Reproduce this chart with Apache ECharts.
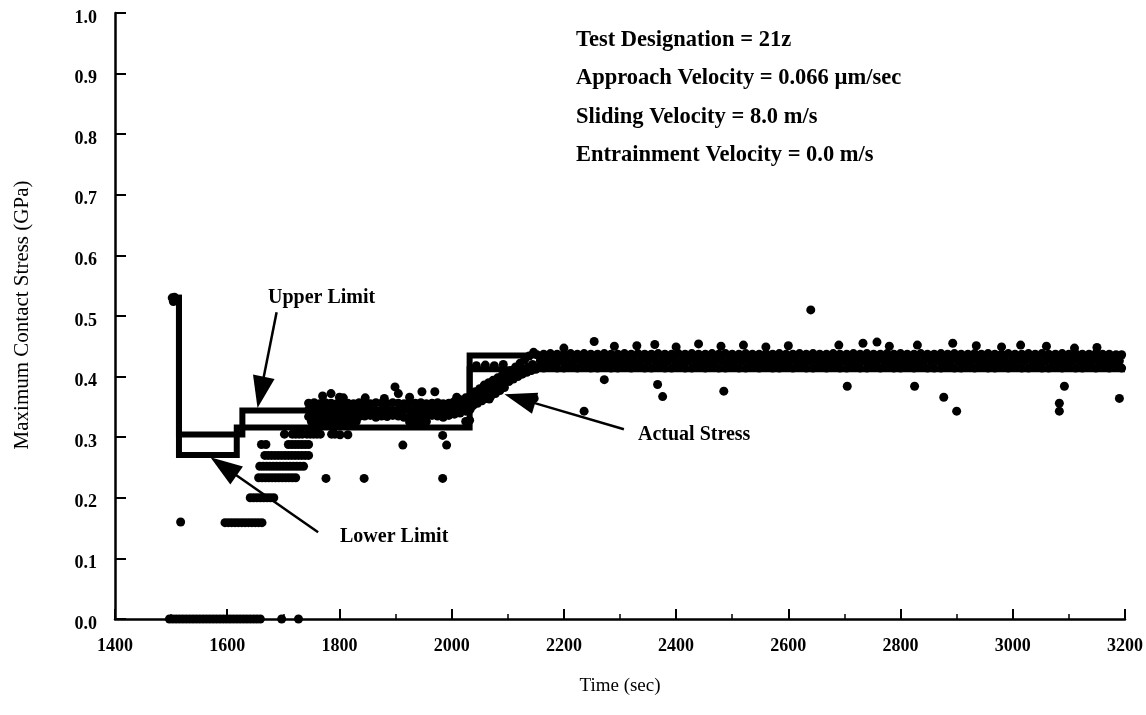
<!DOCTYPE html>
<html><head><meta charset="utf-8">
<script src="https://cdn.jsdelivr.net/npm/echarts@6/dist/echarts.min.js"></script>
<style>html,body{margin:0;padding:0;background:#fff}#c{width:1146px;height:715px}</style>
</head><body><div id="c"></div>
<script>
// ---------- DATA ----------
const xTicks = [1400,1600,1800,2000,2200,2400,2600,2800,3000,3200];
const yTicks = [0,0.1,0.2,0.3,0.4,0.5,0.6,0.7,0.8,0.9,1.0];

const infoLines = ['Test Designation = 21z','Approach Velocity = 0.066 \u00b5m/sec','Sliding Velocity = 8.0 m/s','Entrainment Velocity = 0.0 m/s'];

const upperLimit = [[1514,0.535],[1514,0.3045],[1627,0.3045],[1627,0.344],[2032,0.344],[2032,0.435],[3200,0.435]];
const lowerLimit = [[1514,0.535],[1514,0.2706],[1617,0.2706],[1617,0.316],[2032,0.316],[2032,0.412],[3200,0.412]];

const startPts = [[1502,0.53],[1506,0.531],[1504,0.524],[1517,0.16]];
const zeroRow = [[1497,0],[1503,0],[1509,0],[1515,0],[1521,0],[1527,0],[1533,0],[1539,0],[1545,0],[1551,0],[1557,0],[1563,0],[1569,0],[1575,0],[1581,0],[1587,0],[1593,0],[1599,0],[1605,0],[1611,0],[1617,0],[1623,0],[1629,0],[1635,0],[1641,0],[1647,0],[1653,0],[1659,0],[1697,0],[1727,0]];
const row016 = [[1596,0.159],[1602,0.159],[1608,0.159],[1614,0.159],[1620,0.159],[1626,0.159],[1632,0.159],[1638,0.159],[1644,0.159],[1650,0.159],[1656,0.159],[1662,0.159]];
const row020 = [[1641,0.2],[1647,0.2],[1653,0.2],[1659,0.2],[1665,0.2],[1671,0.2],[1677,0.2],[1683,0.2]];
const row023 = [[1656,0.233],[1662,0.233],[1668,0.233],[1674,0.233],[1680,0.233],[1686,0.233],[1692,0.233],[1698,0.233],[1704,0.233],[1710,0.233],[1716,0.233],[1722,0.233]];
const row025 = [[1658,0.252],[1664,0.252],[1670,0.252],[1676,0.252],[1682,0.252],[1688,0.252],[1694,0.252],[1700,0.252],[1706,0.252],[1712,0.252],[1718,0.252],[1724,0.252],[1730,0.252],[1736,0.252]];
const row027 = [[1667,0.27],[1673,0.27],[1679,0.27],[1685,0.27],[1691,0.27],[1697,0.27],[1703,0.27],[1709,0.27],[1715,0.27],[1721,0.27],[1727,0.27],[1733,0.27],[1739,0.27],[1745,0.27]];
const row029 = [[1661,0.288],[1669,0.288],[1709,0.288],[1715,0.288],[1721,0.288],[1727,0.288],[1733,0.288],[1739,0.288],[1745,0.288]];
const row030 = [[1702,0.305],[1716,0.305],[1722,0.305],[1728,0.305],[1734,0.305],[1742,0.305],[1748,0.305],[1754,0.305],[1760,0.305],[1766,0.305],[1786,0.305],[1792,0.305],[1801,0.304],[1815,0.304]];

const band1Times = [1745,1755,1765,1775,1785,1795,1805,1815,1825,1835,1845,1855,1865,1875,1885,1895,1905,1915,1925,1935,1945,1955,1965,1975,1985,1995,2005,2015,2025,2033];
const band1Low  = [0.334,0.336,0.333,0.335,0.336,0.334,0.335,0.333,0.336,0.334,0.335,0.336,0.333,0.335,0.334,0.336,0.335,0.333,0.334,0.336,0.335,0.334,0.336,0.335,0.333,0.336,0.338,0.340,0.343,0.346];
const band1Mid  = [0.345,0.346,0.344,0.345,0.346,0.344,0.346,0.345,0.344,0.346,0.345,0.346,0.344,0.345,0.346,0.344,0.345,0.346,0.345,0.344,0.346,0.345,0.344,0.346,0.345,0.346,0.349,0.351,0.354,0.357];
const band1High = [0.356,0.357,0.355,0.357,0.356,0.355,0.357,0.356,0.355,0.357,0.356,0.355,0.357,0.356,0.355,0.357,0.356,0.355,0.357,0.356,0.357,0.355,0.356,0.357,0.355,0.356,0.359,0.362,0.365,0.368];
const band1Base = [[1750,0.326],[1760,0.325],[1770,0.326],[1780,0.325],[1790,0.326],[1800,0.325],[1810,0.326],[1820,0.325],[1830,0.326],[1925,0.325],[1935,0.326],[1945,0.325],[1955,0.326],[2025,0.326],[2032,0.328]];
const band1Top = [[1770,0.368],[1785,0.372],[1800,0.366],[1807,0.365],[1846,0.365],[1880,0.364],[1899,0.383],[1905,0.372],[1925,0.366],[1947,0.375],[1970,0.375],[2009,0.366]];
const band1Out = [[1776,0.232],[1844,0.232],[1984,0.232],[1913,0.287],[1991,0.287],[1984,0.303]];

const rampPts = [
  [2038,0.352],[2046,0.356],[2054,0.36],[2062,0.364],[2070,0.368],[2078,0.372],[2086,0.377],[2094,0.382],[2102,0.392],[2110,0.396],[2118,0.4],[2126,0.404],[2134,0.407],[2142,0.41],[2150,0.412],
  [2040,0.363],[2048,0.368],[2056,0.372],[2064,0.376],[2072,0.38],[2080,0.385],[2088,0.39],[2096,0.394],[2104,0.4],[2112,0.404],[2120,0.408],[2128,0.412],[2136,0.416],[2144,0.42],
  [2042,0.375],[2050,0.38],[2058,0.386],[2066,0.39],[2074,0.394],[2082,0.398],[2090,0.402],[2098,0.406],[2106,0.41],[2114,0.416],[2122,0.422],[2130,0.428],[2138,0.434],[2146,0.44],
  [2044,0.418],[2060,0.419],[2076,0.418],[2092,0.42],[2067,0.363],[2147,0.364]
];

const band3TimesA = [2152,2164,2176,2188,2200,2212,2224,2236,2248,2260,2272,2284,2296,2308,2320,2332,2344,2356,2368,2380,2392,2404,2416,2428,2440,2452,2464,2476,2488,2500,2512,2524,2536,2548,2560,2572,2584,2596,2608,2620,2632,2644,2656,2668,2680,2692,2704,2716,2728,2740,2752,2764,2776,2788,2800,2812,2824,2836,2848,2860,2872,2884,2896,2908,2920,2932,2944,2956,2968,2980,2992,3004,3016,3028,3040,3052,3064,3076,3088,3100,3112,3124,3136,3148,3160,3172,3184,3194];
const band3TimesB = [2158,2170,2182,2194,2206,2218,2230,2242,2254,2266,2278,2290,2302,2314,2326,2338,2350,2362,2374,2386,2398,2410,2422,2434,2446,2458,2470,2482,2494,2506,2518,2530,2542,2554,2566,2578,2590,2602,2614,2626,2638,2650,2662,2674,2686,2698,2710,2722,2734,2746,2758,2770,2782,2794,2806,2818,2830,2842,2854,2866,2878,2890,2902,2914,2926,2938,2950,2962,2974,2986,2998,3010,3022,3034,3046,3058,3070,3082,3094,3106,3118,3130,3142,3154,3166,3178,3190];
const band3Low = [0.415,0.414,0.415,0.414,0.414,0.415,0.414,0.415,0.414,0.414,0.415,0.414,0.414,0.415,0.414,0.415,0.414,0.414,0.415,0.414,0.414,0.415,0.414,0.414,0.415,0.414,0.415,0.414,0.414,0.415,0.414,0.414,0.415,0.414,0.415,0.414,0.414,0.415,0.414,0.415,0.414,0.414,0.415,0.414,0.415,0.414,0.414,0.415,0.414,0.414,0.415,0.414,0.415,0.414,0.414,0.415,0.414,0.415,0.414,0.414,0.414,0.415,0.414,0.414,0.415,0.414,0.415,0.414,0.414,0.415,0.414,0.415,0.414,0.414,0.415,0.414,0.414,0.415,0.414,0.415,0.414,0.414,0.415,0.414,0.415,0.414,0.415,0.414];
const band3Mid = [0.426,0.425,0.426,0.426,0.425,0.426,0.426,0.426,0.425,0.426,0.426,0.425,0.426,0.426,0.425,0.426,0.426,0.426,0.425,0.426,0.426,0.425,0.426,0.426,0.426,0.425,0.426,0.426,0.425,0.426,0.426,0.426,0.425,0.426,0.426,0.425,0.426,0.426,0.426,0.425,0.426,0.426,0.425,0.426,0.426,0.426,0.425,0.426,0.426,0.425,0.426,0.426,0.426,0.425,0.426,0.426,0.425,0.426,0.426,0.426,0.425,0.426,0.426,0.425,0.426,0.426,0.426,0.425,0.426,0.426,0.425,0.426,0.426,0.426,0.425,0.426,0.426,0.425,0.426,0.426,0.426,0.425,0.426,0.426,0.425,0.426,0.426];
const band3High = [0.436,0.437,0.438,0.437,0.437,0.438,0.437,0.438,0.437,0.437,0.438,0.437,0.437,0.438,0.437,0.438,0.437,0.437,0.438,0.437,0.437,0.438,0.437,0.438,0.437,0.437,0.438,0.437,0.438,0.437,0.437,0.438,0.437,0.437,0.438,0.437,0.438,0.437,0.437,0.438,0.437,0.438,0.437,0.437,0.438,0.437,0.437,0.438,0.437,0.438,0.437,0.437,0.438,0.437,0.438,0.437,0.437,0.438,0.437,0.437,0.438,0.437,0.438,0.437,0.437,0.438,0.437,0.438,0.437,0.437,0.438,0.437,0.437,0.438,0.437,0.438,0.437,0.437,0.438,0.437,0.438,0.437,0.437,0.438,0.437,0.437,0.436,0.436];
const band3Top = [[2200,0.447],[2254,0.458],[2290,0.45],[2330,0.451],[2362,0.453],[2400,0.449],[2440,0.454],[2480,0.45],[2520,0.452],[2560,0.449],[2600,0.451],[2690,0.452],[2733,0.455],[2780,0.45],[2830,0.452],[2893,0.455],[2935,0.451],[2980,0.449],[3014,0.452],[3060,0.45],[3110,0.447],[3150,0.448]];
const band3Out = [[2236,0.343],[2272,0.395],[2367,0.387],[2376,0.367],[2485,0.376],[2640,0.51],[2705,0.384],[2758,0.457],[2825,0.384],[2877,0.366],[2900,0.343],[3083,0.356],[3083,0.343],[3092,0.384],[3190,0.364]];

// ---------- BUILD ----------
const zip = (ts, ys) => ts.map((t,i)=>[t, ys[i]]).filter(p=>p[1]!==undefined);
const actualStress = [].concat(
  startPts, zeroRow, row016, row020, row023, row025, row027, row029, row030,
  zip(band1Times, band1Low), zip(band1Times, band1Mid), zip(band1Times, band1High), band1Base, band1Top, band1Out,
  rampPts,
  zip(band3TimesA, band3Low), zip(band3TimesB, band3Mid), zip(band3TimesA, band3High), band3Top, band3Out
);

const FONT = '"Liberation Serif","Times New Roman",Times,serif';
const chart = echarts.init(document.getElementById('c'), null, {renderer:'canvas'});

function txt(x, y, s, size, weight, align, rot) {
  const el = {
    type:'text', x:x, y:y, silent:true,
    style:{text:s, fill:'#000', font: weight+' '+size+'px '+FONT,
      textAlign:align||'left', textVerticalAlign:'middle', align:align||'left', verticalAlign:'middle'}
  };
  if (rot) el.rotation = rot;
  return el;
}

const graphics = [
  txt(576, 40, infoLines[0], 22.5, 'bold'),
  txt(576, 78, infoLines[1], 22.5, 'bold'),
  txt(576, 117, infoLines[2], 22.5, 'bold'),
  txt(576, 155, infoLines[3], 22.5, 'bold'),
  txt(268, 298, 'Upper Limit', 20, 'bold'),
  txt(340, 537, 'Lower Limit', 20, 'bold'),
  txt(638, 435, 'Actual Stress', 20, 'bold'),
  txt(620, 686, 'Time (sec)', 19, 'normal', 'center'),
  txt(22, 315, 'Maximum Contact Stress (GPa)', 21, 'normal', 'center', Math.PI/2)
];

const option = {
  backgroundColor:'#fff',
  animation:false,
  grid:{left:115, right:19, top:13, bottom:96},
  xAxis:{
    type:'value', min:xTicks[0], max:xTicks[xTicks.length-1], interval:200,
    axisLine:{lineStyle:{color:'#000', width:2.5}},
    axisTick:{inside:true, length:10, lineStyle:{color:'#000', width:2}},
    minorTick:{show:true, splitNumber:2, length:5, lineStyle:{color:'#000', width:1.5}},
    splitLine:{show:false},
    axisLabel:{color:'#000', fontFamily:FONT, fontWeight:'bold', fontSize:18, margin:18,
      formatter:v=>String(v)}
  },
  yAxis:{
    type:'value', min:yTicks[0], max:yTicks[yTicks.length-1], interval:0.1,
    axisLine:{show:true, lineStyle:{color:'#000', width:2.5}},
    axisTick:{show:true, inside:true, length:11, lineStyle:{color:'#000', width:2}},
    splitLine:{show:false},
    axisLabel:{color:'#000', fontFamily:FONT, fontWeight:'bold', fontSize:18, margin:18,
      verticalAlign:'top', lineHeight:10,
      formatter:v=>v.toFixed(1)}
  },
  graphic: graphics,
  series:[
    {type:'line', name:'Upper Limit', data:upperLimit, symbol:'none', showSymbol:false, z:1, silent:true,
      lineStyle:{color:'#000', width:6, cap:'butt', join:'miter'}},
    {type:'line', name:'Lower Limit', data:lowerLimit, symbol:'none', showSymbol:false, z:1, silent:true,
      lineStyle:{color:'#000', width:6, cap:'butt', join:'miter'}},
    {type:'scatter', name:'Actual Stress', data:actualStress, symbol:'circle', symbolSize:9, z:2, silent:true,
      itemStyle:{color:'#000', opacity:1, borderWidth:0}},
    {type:'custom', name:'arrows', coordinateSystem:'cartesian2d', z:5, silent:true, clip:false,
      encode:{x:[0,2], y:[1,3]},
      data:[[1688,0.506,1654,0.348],[1762,0.143,1570,0.267],[2307,0.313,2094,0.371]],
      renderItem:function(params, api){
        const a = api.coord([api.value(0), api.value(1)]);
        const b = api.coord([api.value(2), api.value(3)]);
        const dx=b[0]-a[0], dy=b[1]-a[1], L=Math.hypot(dx,dy), ux=dx/L, uy=dy/L;
        const hl=32, hw=11;
        const base=[b[0]-ux*hl, b[1]-uy*hl];
        const px=-uy, py=ux;
        return {type:'group', children:[
          {type:'line', shape:{x1:a[0], y1:a[1], x2:base[0]+ux*3, y2:base[1]+uy*3}, style:{stroke:'#000', lineWidth:2.5}},
          {type:'polygon', shape:{points:[[b[0],b[1]],[base[0]+px*hw, base[1]+py*hw],[base[0]-px*hw, base[1]-py*hw]]}, style:{fill:'#000'}}
        ]};
      }
    }
  ]
};
chart.setOption(option);
</script>
</body></html>
